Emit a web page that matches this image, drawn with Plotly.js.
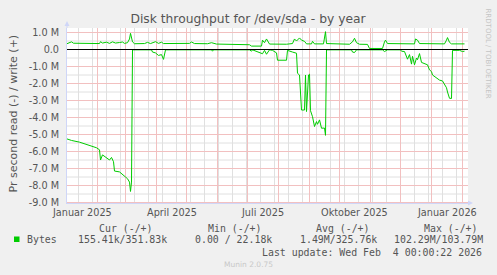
<!DOCTYPE html>
<html>
<head>
<meta charset="utf-8">
<script src="https://cdn.plot.ly/plotly-3.0.1.min.js"></script>
<style>
html,body{margin:0;padding:0;background:#f0f0f0;}
#chart{width:497px;height:275px;}
</style>
</head>
<body>
<div id="chart"></div>
<script>
// ---- data (values in M bytes/s) ----
const writeDates = ['2025-01-01','2025-01-04','2025-01-06','2025-01-08','2025-01-14','2025-01-24','2025-02-03','2025-02-04','2025-02-06','2025-02-10','2025-02-13','2025-02-16','2025-02-19','2025-02-23','2025-02-26','2025-02-28','2025-03-03','2025-03-05','2025-03-06','2025-03-08','2025-03-10','2025-03-20','2025-03-23','2025-03-26','2025-03-31','2025-04-03','2025-04-06','2025-04-08','2025-04-24','2025-05-04','2025-05-06','2025-05-09','2025-05-22','2025-05-26','2025-05-31','2025-06-13','2025-06-28','2025-07-03','2025-07-05','2025-07-15','2025-07-16','2025-07-18','2025-07-20','2025-07-23','2025-08-09','2025-08-15','2025-08-17','2025-08-19','2025-08-22','2025-08-24','2025-08-27','2025-08-29','2025-09-03','2025-09-04','2025-09-06','2025-09-15','2025-09-17','2025-09-18','2025-10-11','2025-10-14','2025-10-16','2025-10-18','2025-10-21','2025-10-29','2025-10-31','2025-11-13','2025-11-15','2025-11-16','2025-11-18','2025-12-15','2025-12-16','2025-12-18','2025-12-20','2026-01-14','2026-01-16','2026-01-17','2026-01-19','2026-01-21','2026-02-03'];
const writeValues = [0.33,0.38,0.45,0.37,0.36,0.35,0.35,0.46,0.38,0.43,0.36,0.45,0.38,0.41,0.44,0.36,0.40,0.62,0.95,0.45,0.34,0.35,0.42,0.35,0.46,0.36,0.43,0.35,0.35,0.36,0.44,0.35,0.34,0.40,0.32,0.31,0.31,0.28,0.20,0.20,0.55,0.40,0.62,0.32,0.31,0.35,0.62,0.50,0.68,0.55,0.48,0.33,0.33,0.48,0.33,0.33,1.05,0.35,0.31,0.45,0.66,0.40,0.31,0.30,0.06,0.06,0.45,0.55,0.35,0.33,0.62,0.55,0.35,0.33,0.55,0.70,0.42,0.33,0.33];

const readDates = ['2025-01-01','2025-01-06','2025-01-14','2025-01-24','2025-01-31','2025-02-03','2025-02-04','2025-02-06','2025-02-10','2025-02-13','2025-02-15','2025-02-17','2025-02-18','2025-02-23','2025-03-01','2025-03-03','2025-03-05','2025-03-06','2025-03-07','2025-03-08','2025-03-27','2025-03-28','2025-03-31','2025-04-03','2025-04-06','2025-04-08','2025-04-10','2025-05-26','2025-05-27','2025-05-28','2025-07-03','2025-07-05','2025-07-06','2025-07-16','2025-07-18','2025-07-20','2025-07-23','2025-07-26','2025-07-30','2025-07-31','2025-08-09','2025-08-10','2025-08-15','2025-08-19','2025-08-20','2025-08-22','2025-08-24','2025-08-27','2025-08-28','2025-08-29','2025-08-31','2025-09-01','2025-09-02','2025-09-04','2025-09-06','2025-09-08','2025-09-09','2025-09-11','2025-09-13','2025-09-15','2025-09-16','2025-09-17','2025-09-18','2025-10-13','2025-10-14','2025-10-16','2025-10-18','2025-11-13','2025-11-15','2025-11-18','2025-12-01','2025-12-02','2025-12-05','2025-12-08','2025-12-10','2025-12-12','2025-12-13','2025-12-15','2025-12-17','2025-12-18','2025-12-20','2025-12-22','2025-12-25','2025-12-28','2025-12-30','2026-01-01','2026-01-02','2026-01-04','2026-01-06','2026-01-09','2026-01-12','2026-01-14','2026-01-16','2026-01-17','2026-01-19','2026-01-21','2026-01-22','2026-01-29','2026-02-01','2026-02-03'];
const readValues = [-5.25,-5.35,-5.45,-5.65,-5.78,-5.9,-6.5,-6.2,-6.35,-6.5,-6.35,-6.6,-7.15,-7.2,-7.5,-7.6,-7.8,-8.35,-7.8,-0.02,-0.02,-0.15,-0.2,-0.35,-0.3,-0.58,-0.02,-0.02,-0.1,-0.02,-0.02,-0.1,-0.02,-0.25,-0.05,-0.28,-0.02,-0.05,-0.2,-0.63,-0.63,-0.05,-0.15,-0.22,-1.4,-1.5,-3.56,-3.56,-1.5,-3.65,-1.5,-1.45,-3.6,-3.95,-4.53,-4.24,-4.4,-4.14,-4.63,-4.6,-4.62,-5.05,-0.02,-0.02,-0.15,-0.18,-0.02,-0.02,-0.12,-0.02,-0.02,-0.1,-0.12,-0.57,-0.3,-0.86,-0.4,-0.9,-0.5,-0.6,-0.24,-0.76,-0.85,-0.9,-1.2,-1.3,-1.5,-1.6,-1.7,-1.8,-1.85,-2.05,-2.25,-2.5,-2.87,-2.88,-0.05,-0.05,-0.12,-0.1];

const xLabelDates = ['2025-01-16','2025-04-16','2025-07-16','2025-10-16','2026-01-16'];
const xLabelText = ['Januar 2025','April 2025','Juli 2025','Oktober 2025','Januar 2026'];
const monthStarts = ['2025-02-01','2025-03-01','2025-04-01','2025-05-01','2025-06-01','2025-07-01','2025-08-01','2025-09-01','2025-10-01','2025-11-01','2025-12-01','2026-01-01','2026-02-01'];
const weekGrid = ['2025-01-13','2025-01-27','2025-02-10','2025-02-24','2025-03-10','2025-03-24','2025-04-07','2025-04-21','2025-05-05','2025-05-19','2025-06-02','2025-06-16','2025-06-30','2025-07-14','2025-07-28','2025-08-11','2025-08-25','2025-09-08','2025-09-22','2025-10-06','2025-10-20','2025-11-03','2025-11-17','2025-12-01','2025-12-15','2025-12-29','2026-01-12','2026-01-26'];

const yTickM = [1,0,-1,-2,-3,-4,-5,-6,-7,-8,-9];
const yTickText = ['1.0 M','0.0','-1.0 M','-2.0 M','-3.0 M','-4.0 M','-5.0 M','-6.0 M','-7.0 M','-8.0 M','-9.0 M'];
const yMinorM = [0.5,-0.5,-1.5,-2.5,-3.5,-4.5,-5.5,-6.5,-7.5,-8.5];

const legendHeaders = ['Cur (-/+)','Min (-/+)','Avg (-/+)','Max (-/+)'];
const legendSeries = 'Bytes';
const legendValues = ['155.41k/351.83k','0.00 / 22.18k','1.49M/325.76k','102.29M/103.79M'];
const lastUpdate = 'Last update: Wed Feb\u00a0\u00a04 00:00:22 2026';

// ---- layout helpers (pixel -> paper) ----
const L = 67, R = 468, T = 28, B = 203;
const px = x => (x - L) / (R - L);
const py = y => (B - y) / (B - T);
const TXT = '#555555';
const MONO = 'DejaVu Sans Mono';

function ann(text, x, y, o) {
  return Object.assign({
    xref: 'paper', yref: 'paper', x: px(x), y: py(y), text: text,
    showarrow: false, xanchor: 'left', yanchor: 'middle', borderpad: 0,
    font: {family: MONO, size: 9.9, color: TXT}
  }, o || {});
}

const M = 1e6;
const traces = [
  {x: readDates, y: readValues.map(v => v * M), type: 'scatter', mode: 'lines',
   line: {color: '#00cc00', width: 1}, hoverinfo: 'skip'},
  {x: writeDates, y: writeValues.map(v => v * M), type: 'scatter', mode: 'lines',
   line: {color: '#00cc00', width: 1}, hoverinfo: 'skip'}
];

const headerLeft = [98.3, 206.7, 315, 422.7];
const valueLeft = [77.3, 194, 299.3, 393];
const annotations = [];
xLabelDates.forEach((d, i) => annotations.push({
  xref: 'x', yref: 'paper', x: d, y: py(212.5), text: xLabelText[i], showarrow: false,
  xanchor: 'center', yanchor: 'middle', borderpad: 0,
  font: {family: 'DejaVu Sans', size: 9.7, color: TXT}}));
legendHeaders.forEach((h, i) => annotations.push(ann(h, headerLeft[i], 228)));
annotations.push(ann(legendSeries, 26.3, 239.5));
legendValues.forEach((v, i) => annotations.push(ann(v, valueLeft[i], 239.5)));
annotations.push(ann(lastUpdate, 483, 252, {xanchor: 'right'}));
annotations.push(ann('Pr second read (-) / write (+)', 13, 113.5,
  {xanchor: 'center', textangle: -90, font: {family: 'DejaVu Sans', size: 11, color: TXT}}));
annotations.push(ann('RRDTOOL / TOBI OETIKER', 488, 53.5,
  {xanchor: 'center', textangle: 90, font: {family: 'DejaVu Sans', size: 7, color: '#c4c4c4'}}));
annotations.push(ann('Munin 2.0.75', 248, 264,
  {xanchor: 'center', font: {family: 'DejaVu Sans', size: 7.5, color: '#c8c8c8'}}));

const AX = '#cfd6f8';
const RED = '#f2c0c0', GRAY = '#e0e0e0';
const gridShapes = [];
weekGrid.forEach(d => gridShapes.push({type: 'line', xref: 'x', yref: 'paper', x0: d, x1: d, y0: 0, y1: 1,
  layer: 'below', line: {color: GRAY, width: 1}}));
yMinorM.forEach(v => gridShapes.push({type: 'line', xref: 'paper', yref: 'y', x0: 0, x1: 1, y0: v * M, y1: v * M,
  layer: 'below', line: {color: GRAY, width: 1}}));
monthStarts.forEach(d => gridShapes.push({type: 'line', xref: 'x', yref: 'paper', x0: d, x1: d, y0: 0, y1: 1,
  layer: 'below', line: {color: RED, width: 1}}));
yTickM.filter(v => v !== 0).forEach(v => gridShapes.push({type: 'line', xref: 'paper', yref: 'y', x0: 0, x1: 1,
  y0: v * M, y1: v * M, layer: 'below', line: {color: RED, width: 1}}));

const shapes = gridShapes.concat([
  {type: 'line', xref: 'paper', yref: 'y', x0: 0, x1: 1, y0: 0, y1: 0, layer: 'above',
   line: {color: '#000000', width: 1.2}},
  {type: 'rect', xref: 'paper', yref: 'paper', x0: px(14), x1: px(19.5), y0: py(242), y1: py(236.5),
   fillcolor: '#00cc00', line: {width: 0}},
  {type: 'line', xref: 'paper', yref: 'paper', x0: 0, x1: 0, y0: 1, y1: py(25), line: {color: AX, width: 1}},
  {type: 'path', xref: 'paper', yref: 'paper',
   path: `M ${px(67)} ${py(21)} L ${px(64.5)} ${py(26)} L ${px(69.5)} ${py(26)} Z`,
   fillcolor: AX, line: {width: 0}},
  {type: 'line', xref: 'paper', yref: 'paper', x0: 1, x1: px(470), y0: 0, y1: 0, line: {color: AX, width: 1}},
  {type: 'path', xref: 'paper', yref: 'paper',
   path: `M ${px(473)} ${py(203)} L ${px(468)} ${py(200.5)} L ${px(468)} ${py(205.5)} Z`,
   fillcolor: AX, line: {width: 0}}
]);

// half-day / half-pixel offsets keep the 1px grid crisp
const xRange = ['2025-01-01 12:00', '2026-02-06 12:00'];
const yRange = [-9.0294 * M, 1.2647 * M];
const layout = {
  width: 497, height: 275,
  margin: {l: L, r: 497 - R, t: T, b: 275 - B, pad: 0},
  paper_bgcolor: '#f0f0f0', plot_bgcolor: '#ffffff',
  showlegend: false,
  font: {family: 'DejaVu Sans', size: 9.7, color: TXT},
  title: {text: 'Disk throughput for /dev/sda - by year', xref: 'container', yref: 'container',
          x: 248 / 497, y: 1 - 18.5 / 275, xanchor: 'center', yanchor: 'middle',
          font: {family: 'DejaVu Sans', size: 12.3, color: TXT}},
  xaxis: {
    type: 'date', range: xRange, fixedrange: true,
    showticklabels: false, ticks: '', showgrid: false,
    showline: true, linecolor: AX, linewidth: 1, zeroline: false
  },
  yaxis: {
    range: yRange, fixedrange: true,
    tickmode: 'array', tickvals: yTickM.map(v => v * M), ticktext: yTickText,
    ticks: 'outside', ticklen: 5, tickcolor: 'rgba(0,0,0,0)',
    tickfont: {family: 'DejaVu Sans', size: 9.7, color: TXT},
    showgrid: false, zeroline: false,
    showline: true, linecolor: AX, linewidth: 1
  },
  annotations: annotations,
  shapes: shapes
};

Plotly.newPlot('chart', traces, layout, {staticPlot: true, displayModeBar: false});
</script>
</body>
</html>
